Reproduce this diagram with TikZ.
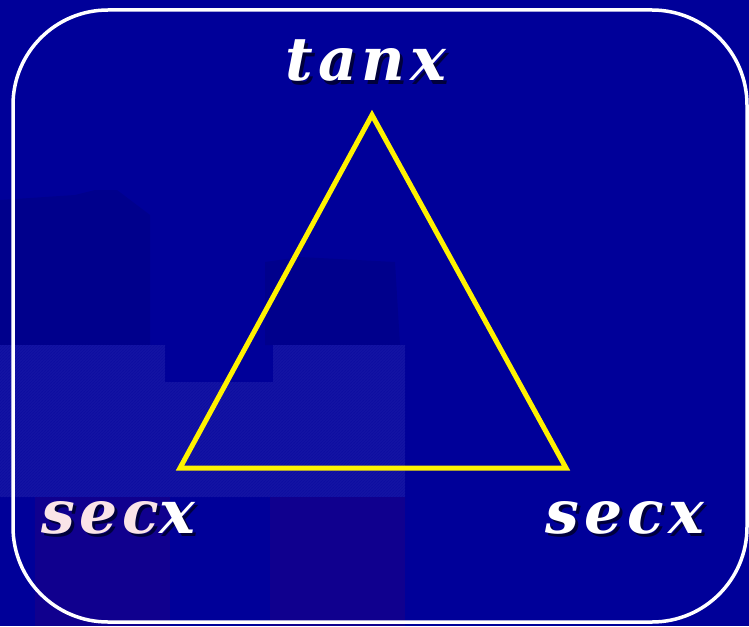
\documentclass[tikz,border=0pt]{standalone}
\usepackage{fontspec}
\newfontfamily\lblfont[LetterSpace=8]{DejaVu Serif}
\usetikzlibrary{patterns}
\definecolor{bgblue}{RGB}{0,0,153}
\definecolor{darkblob}{RGB}{0,0,140}
\definecolor{lightblob}{RGB}{20,20,164}
\definecolor{purpblob}{RGB}{16,0,142}
\definecolor{pinkish}{RGB}{250,228,232}
\definecolor{shadowcol}{RGB}{0,0,60}
\newcommand{\shadowed}[2][white]{\makebox[0pt][l]{\hspace{3pt}\raisebox{-3pt}{\textcolor{shadowcol}{#2}}}\textcolor{#1}{#2}}
\tikzset{
  frame/.style={draw=white, line width=3.5pt, rounded corners=95pt},
  tri/.style={draw=yellow, line width=5pt, line join=miter},
  lbl/.style={anchor=base, inner sep=0pt, text=white,
    font=\lblfont\bfseries\itshape\fontsize{60}{64}\selectfont}
}
\begin{document}
\begin{tikzpicture}[x=1pt,y=-1pt]
\fill[bgblue] (0,0) rectangle (749,626);
\useasboundingbox (0,0) rectangle (749,626);
% faint background artefacts
\fill[darkblob] (0,200) -- (75,195) -- (95,190) -- (117,190) -- (150,215) -- (150,345) -- (0,345) -- cycle;
\fill[darkblob] (265,262) -- (300,257) -- (395,262) -- (400,345) -- (265,345) -- cycle;
\fill[lightblob] (0,345) -- (165,345) -- (165,382) -- (273,382) -- (273,345) -- (405,345) -- (405,497) -- (0,497) -- cycle;
\fill[pattern=north east lines, pattern color=bgblue, opacity=0.35] (0,345) -- (165,345) -- (165,382) -- (273,382) -- (273,345) -- (405,345) -- (405,497) -- (0,497) -- cycle;
\fill[purpblob] (35,497) rectangle (170,626);
\fill[purpblob] (270,497) rectangle (405,626);
% frame
\draw[frame] (13,10) rectangle (747,622);
% triangle
\coordinate (A) at (372,115);
\coordinate (B) at (566,468);
\coordinate (C) at (180,468);
\draw[tri] (A) -- (B) -- (C) -- cycle;
% labels
\node[lbl] (t) at (366,81) {\shadowed{tanx}};
\node[lbl] (l) at (118,533) {\shadowed[pinkish]{sec}\shadowed{x}};
\node[lbl] (r) at (625,533) {\shadowed{secx}};
\end{tikzpicture}
\end{document}
